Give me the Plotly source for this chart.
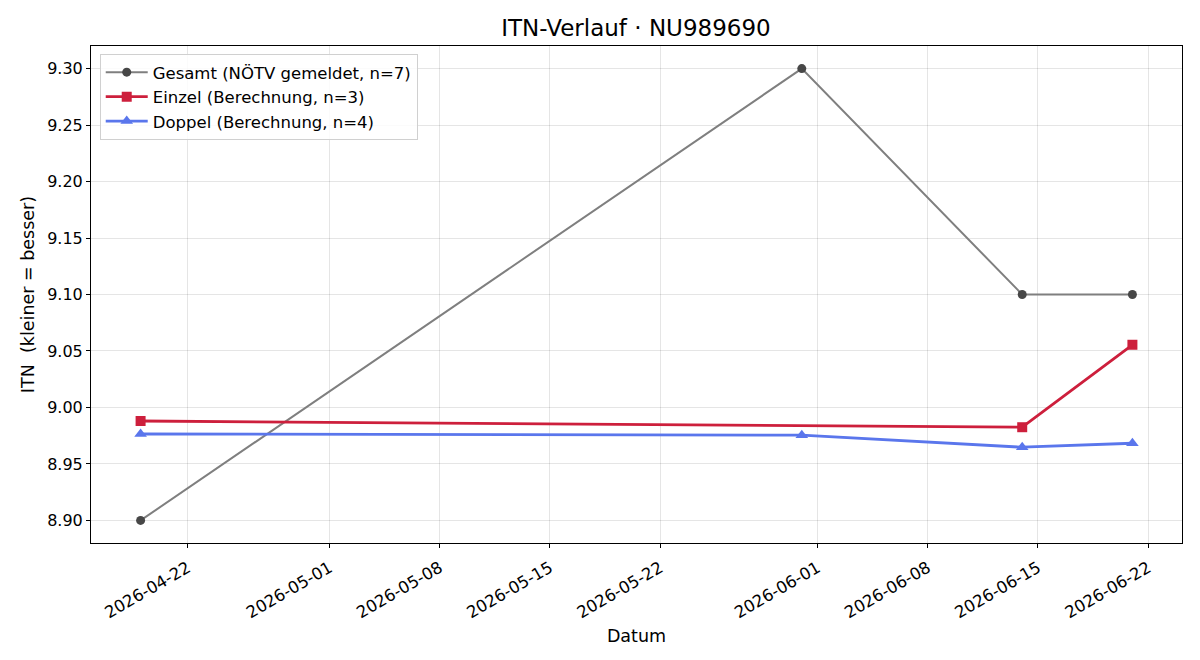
import plotly.graph_objects as go

gesamt_dates = ["2026-04-19", "2026-05-31", "2026-06-14", "2026-06-21"]
gesamt_vals = [8.90, 9.30, 9.10, 9.10]

einzel_dates = ["2026-04-19", "2026-06-14", "2026-06-21"]
einzel_vals = [8.988, 8.9825, 9.0555]

doppel_dates = ["2026-04-19", "2026-05-31", "2026-06-14", "2026-06-21"]
doppel_vals = [8.9765, 8.9755, 8.9648, 8.9683]

x_ticks = ["2026-04-22", "2026-05-01", "2026-05-08", "2026-05-15", "2026-05-22",
           "2026-06-01", "2026-06-08", "2026-06-15", "2026-06-22"]
y_ticks = [8.90, 8.95, 9.00, 9.05, 9.10, 9.15, 9.20, 9.25, 9.30]

fig = go.Figure()
fig.add_trace(go.Scatter(
    x=gesamt_dates, y=gesamt_vals, mode="lines+markers",
    name="Gesamt (NÖTV gemeldet, n=7)",
    line=dict(color="#7f7f7f", width=2),
    marker=dict(symbol="circle", size=9, color="#474747"),
))
fig.add_trace(go.Scatter(
    x=einzel_dates, y=einzel_vals, mode="lines+markers",
    name="Einzel (Berechnung, n=3)",
    line=dict(color="#cd1f3c", width=2.8),
    marker=dict(symbol="square", size=10, color="#cd1f3c"),
))
fig.add_trace(go.Scatter(
    x=doppel_dates, y=doppel_vals, mode="lines+markers",
    name="Doppel (Berechnung, n=4)",
    line=dict(color="#5a76ec", width=2.8),
    marker=dict(symbol="triangle-up", size=11, color="#5a76ec"),
))

fig.update_layout(
    width=1200, height=660,
    margin=dict(l=91, r=18, t=46, b=117),
    paper_bgcolor="white", plot_bgcolor="white",
    font=dict(family="DejaVu Sans", size=16, color="black"),
    title=dict(text="ITN-Verlauf · NU989690", x=0.53, xanchor="center",
               y=0.957, yanchor="middle", font=dict(size=23)),
    showlegend=True,
    legend=dict(x=0.008, y=0.984, xanchor="left", yanchor="top",
                bgcolor="rgba(255,255,255,0.85)", bordercolor="#d0d0d0", borderwidth=1,
                font=dict(size=16.5), tracegroupgap=2, itemwidth=42),
    hovermode=False,
)
fig.update_xaxes(
    type="date", range=["2026-04-15 20:24", "2026-06-24 03:36"],
    tickvals=x_ticks, ticktext=x_ticks, tickangle=-30,
    tickfont=dict(size=16.5), ticklabelstandoff=4,
    showgrid=True, gridcolor="rgba(0,0,0,0.1)", gridwidth=1,
    showline=True, linecolor="black", linewidth=1, mirror=True,
    ticks="outside", ticklen=4, tickcolor="black",
    title=dict(text="Datum", font=dict(size=17.5), standoff=8),
    zeroline=False,
)
fig.update_yaxes(
    range=[8.88, 9.32],
    tickvals=y_ticks, ticktext=[f"{v:.2f}" for v in y_ticks],
    tickfont=dict(size=16),
    showgrid=True, gridcolor="rgba(0,0,0,0.1)", gridwidth=1,
    showline=True, linecolor="black", linewidth=1, mirror=True,
    ticks="outside", ticklen=4, tickcolor="black",
    title=dict(text="ITN  (kleiner = besser)", font=dict(size=17.5), standoff=8),
    zeroline=False,
)

fig.write_html("out.html")
